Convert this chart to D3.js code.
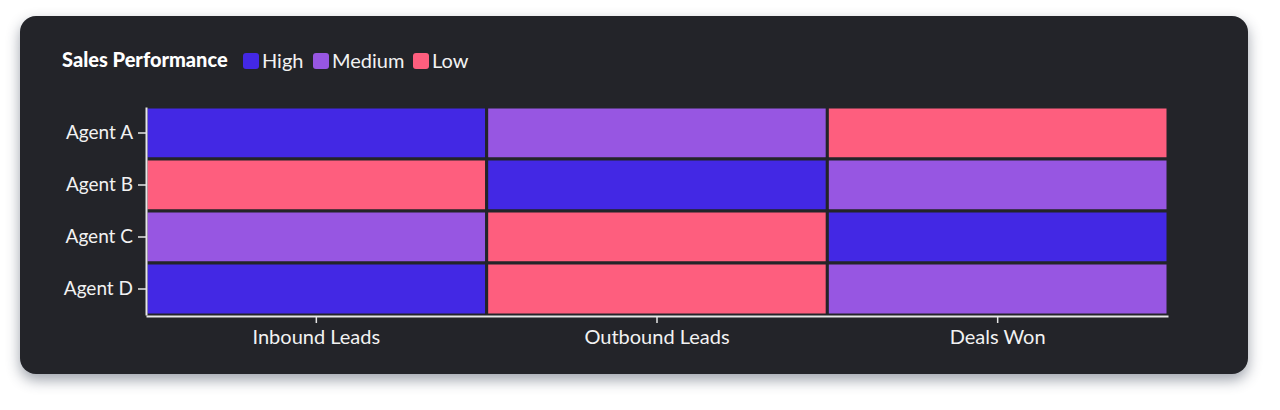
<!DOCTYPE html>
<html>
<head>
<meta charset="utf-8">
<script src="https://cdn.jsdelivr.net/npm/d3@7"></script>
<style>
  html, body { margin: 0; padding: 0; background: #ffffff; }
  body { width: 1280px; height: 410px; position: relative; overflow: hidden; }
  #card {
    position: absolute; left: 20px; top: 16px; width: 1228px; height: 358px;
    background: #232429; border-radius: 16px;
    box-shadow: 0 6px 14px rgba(40, 50, 70, 0.45);
  }
  text { font-family: Lato, "Noto Sans", sans-serif; }
</style>
</head>
<body>
<div id="card"></div>
<script>
// data
const AGENTS = ['Agent A', 'Agent B', 'Agent C', 'Agent D'];
const METRICS = ['Inbound Leads', 'Outbound Leads', 'Deals Won'];
const LEVELS = ['High', 'Medium', 'Low'];
const LEVEL_COLORS = ['#4328e4', '#9756e2', '#fe5e7e'];
// performance per agent, one entry per metric
const AGENT_A = ['High', 'Medium', 'Low'];
const AGENT_B = ['Low', 'High', 'Medium'];
const AGENT_C = ['Medium', 'Low', 'High'];
const AGENT_D = ['High', 'Low', 'Medium'];
const ROWS = [AGENT_A, AGENT_B, AGENT_C, AGENT_D];

const FRAME_WIDTH = 1228;
const FRAME_HEIGHT = 358;
const MARGINS = {left: 126, right: 80, top: 91, bottom: 59};
const VIS_WIDTH = FRAME_WIDTH - MARGINS.left - MARGINS.right;
const VIS_HEIGHT = FRAME_HEIGHT - MARGINS.top - MARGINS.bottom;
const BG = '#232429';

const FRAME = d3.select('#card')
    .append('svg')
        .attr('width', FRAME_WIDTH)
        .attr('height', FRAME_HEIGHT);

const cells = [];
ROWS.forEach((row, i) => {
    row.forEach((lvl, j) => {
        cells.push({agent: AGENTS[i], metric: METRICS[j], level: lvl});
    });
});

const X_SCALE = d3.scaleBand().domain(METRICS).range([0, VIS_WIDTH]);
const Y_SCALE = d3.scaleBand().domain(AGENTS).range([0, VIS_HEIGHT]);
const COLOR = d3.scaleOrdinal().domain(LEVELS).range(LEVEL_COLORS);

const G = FRAME.append('g')
    .attr('transform', 'translate(' + MARGINS.left + ',' + MARGINS.top + ')');

// faint gridlines at row centres, behind the cells
G.selectAll('.grid')
    .data(AGENTS)
    .enter()
    .append('line')
    .attr('x1', 0)
    .attr('x2', VIS_WIDTH + 1)
    .attr('y1', (d) => Y_SCALE(d) + Y_SCALE.bandwidth() / 2)
    .attr('y2', (d) => Y_SCALE(d) + Y_SCALE.bandwidth() / 2)
    .attr('stroke', '#4a4c52')
    .attr('stroke-width', 1);

// cells
G.selectAll('.cell')
    .data(cells)
    .enter()
    .append('rect')
    .attr('x', (d) => X_SCALE(d.metric))
    .attr('y', (d) => Y_SCALE(d.agent))
    .attr('width', X_SCALE.bandwidth())
    .attr('height', Y_SCALE.bandwidth())
    .attr('fill', (d) => COLOR(d.level))
    .attr('stroke', BG)
    .attr('stroke-width', 3);

// y axis
const yAxis = G.append('g')
    .call(d3.axisLeft(Y_SCALE).tickSize(8).tickSizeOuter(0).tickPadding(5));
yAxis.selectAll('.tick text').attr('font-size', '19px');
// x axis
const xAxis = G.append('g')
    .attr('transform', 'translate(0,' + (VIS_HEIGHT + 1) + ')')
    .call(d3.axisBottom(X_SCALE).tickSize(7).tickSizeOuter(0).tickPadding(7));
xAxis.selectAll('.tick text').attr('font-size', '20px');

[yAxis, xAxis].forEach((ax) => {
    ax.attr('font-size', null);
    ax.select('.domain').attr('stroke', '#e6e6e6').attr('stroke-width', 2);
    ax.selectAll('.tick line').attr('stroke', '#e6e6e6').attr('stroke-width', 1.5);
    ax.selectAll('.tick text')
        .attr('fill', '#f2f2f2')
        .style('font-family', 'Lato, "Noto Sans", sans-serif');
});

// legend
const LEG = FRAME.append('g').attr('transform', 'translate(42,45)');
LEG.append('text')
    .attr('x', 0)
    .attr('y', 6)
    .attr('fill', '#ffffff')
    .attr('font-size', '20px')
    .attr('font-weight', 900)
    .text('Sales Performance');

const LEG_X = [181, 251, 351];
LEVELS.forEach((lvl, i) => {
    LEG.append('rect')
        .attr('x', LEG_X[i])
        .attr('y', -8)
        .attr('width', 16)
        .attr('height', 16)
        .attr('rx', 3)
        .attr('fill', COLOR(lvl));
    LEG.append('text')
        .attr('x', LEG_X[i] + 19)
        .attr('y', 7)
        .attr('fill', '#f2f2f2')
        .attr('font-size', '20px')
        .text(lvl);
});
</script>
</body>
</html>
